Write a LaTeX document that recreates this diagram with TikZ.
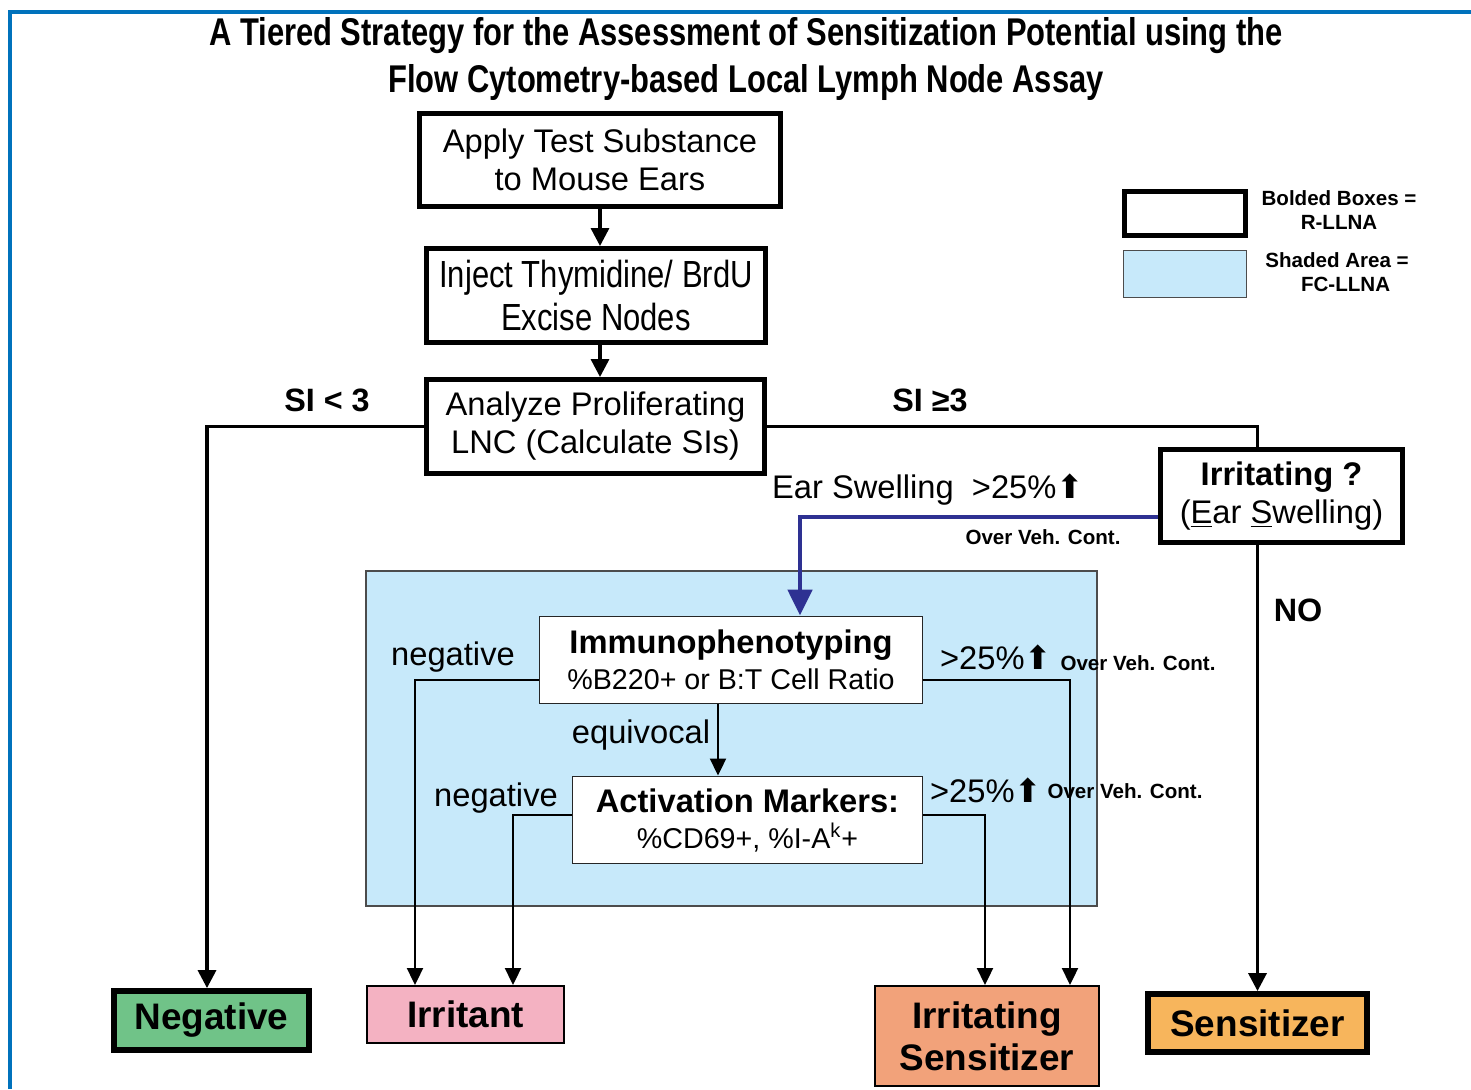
\documentclass[tikz,border=0pt]{standalone}
\usepackage{fontspec}
\usepackage{graphicx}
\setmainfont{Liberation Sans}
\newfontfamily\arrowfont{DejaVu Sans}
\usetikzlibrary{arrows.meta,positioning}
\definecolor{framecol}{RGB}{0,114,188}
\definecolor{fcshade}{RGB}{199,233,250}
\definecolor{earblue}{RGB}{46,49,146}
\definecolor{negcol}{RGB}{112,195,136}
\definecolor{irrcol}{RGB}{244,178,194}
\definecolor{irrsenscol}{RGB}{242,162,122}
\definecolor{senscol}{RGB}{247,181,92}
\newcommand{\uparr}{{\arrowfont\char"2B06}}
\newcommand{\narrow}[1]{\scalebox{0.82}[1]{#1}}

\begin{document}
\begin{tikzpicture}
    % Define styles
    \tikzset{
        rllna/.style={draw, line width=2.8pt, fill=white, inner sep=0pt, align=center, font=\fontsize{18.6}{21.6}\selectfont},
        fcllna/.style={draw=black!85, line width=1.1pt, fill=white, inner sep=0pt, align=center, font=\fontsize{18.6}{20.5}\selectfont},
        outcome/.style={draw, inner sep=0pt, align=center, font=\bfseries\fontsize{21}{24}\selectfont},
        flowarrow/.style={line width=1.9pt, -{Triangle[length=0.36cm, width=0.36cm]}},
        innerarrow/.style={line width=1.2pt, -{Triangle[length=0.34cm, width=0.32cm]}},
        bluearrow/.style={line width=2.8pt, draw=earblue, -{Triangle[length=0.52cm, width=0.48cm]}},
        steplabel/.style={font=\fontsize{18.6}{21}\selectfont},
        boldlabel/.style={font=\bfseries\fontsize{18.4}{21}\selectfont},
        smalllabel/.style={font=\bfseries\fontsize{11.7}{13.7}\selectfont, align=center}
    }
    \useasboundingbox (0,0) rectangle (29.42,21.78);
    
    % Frame
    \draw[framecol, line width=2.8pt] (0.2,0) -- (0.2,21.54) -- (29.42,21.54);
    
    % Title
    \node[font=\bfseries\fontsize{22}{26.7}\selectfont, align=center, xscale=0.80] (title) at (14.92,20.60)
        {A Tiered Strategy for the Assessment of Sensitization Potential using the\\Flow Cytometry-based Local Lymph Node Assay};
    
    % Legend
    \node[draw, line width=2.8pt, fill=white, minimum width=2.42cm, minimum height=0.88cm] (legbold) at (23.70,17.51) {};
    \node[draw=black!70, line width=0.6pt, fill=fcshade, minimum width=2.46cm, minimum height=0.94cm] (legshade) at (23.70,16.30) {};
    \node[smalllabel] (legboldtxt) at (26.78,17.58) {Bolded Boxes =\\R-LLNA};
    \node[smalllabel] (legshadetxt) at (26.74,16.34) {Shaded Area =\\\ \ \ FC-LLNA};
    
    % FC-LLNA area
    \node[draw=black!70, line width=0.6pt, fill=fcshade, minimum width=14.62cm, minimum height=6.70cm] (fcarea) at (14.63,7.01) {};
    
    % R-LLNA steps
    \node[rllna, minimum width=7.22cm, minimum height=1.86cm] (apply) at (12.00,18.58) {Apply Test Substance\\to Mouse Ears};
    \node[rllna, minimum width=6.78cm, minimum height=1.88cm, font=\fontsize{21.5}{25}\selectfont] (inject) at (11.92,15.87) {\narrow{Inject Thymidine/ BrdU}\\\narrow{Excise Nodes}};
    \node[rllna, minimum width=6.76cm, minimum height=1.88cm] (analyze) at (11.91,13.25) {Analyze Proliferating\\LNC (Calculate SIs)};
    \node[rllna, minimum width=4.84cm, minimum height=1.86cm] (irritating) at (25.63,11.86) {\textbf{Irritating ?}\\(\underline{E}ar \underline{S}welling)};
    
    % FC-LLNA steps
    \node[fcllna, minimum width=7.66cm, minimum height=1.74cm] (immuno) at (14.62,8.58) {\textbf{Immunophenotyping}\\{\fontsize{16.3}{19}\selectfont \%B220+ or B:T Cell Ratio}};
    \node[fcllna, minimum width=7.00cm, minimum height=1.74cm] (activation) at (14.95,5.38) {\textbf{Activation Markers:}\\{\fontsize{16.3}{19}\selectfont \%CD69+, \%I-A\textsuperscript{k}+}};
    
    % Outcomes
    \node[outcome, line width=3.3pt, fill=negcol, minimum width=3.90cm, minimum height=1.18cm] (negative) at (4.23,1.37) {Negative};
    \node[outcome, line width=1.1pt, fill=irrcol, minimum width=3.94cm, minimum height=1.14cm] (irritant) at (9.31,1.49) {Irritant};
    \node[outcome, line width=1.1pt, fill=irrsenscol, minimum width=4.48cm, minimum height=2.00cm] (irrsens) at (19.74,1.06) {Irritating\\Sensitizer};
    \node[outcome, line width=3.3pt, fill=senscol, minimum width=4.38cm, minimum height=1.16cm] (sensitizer) at (25.15,1.32) {Sensitizer};
    
    % Connectors
    \draw[flowarrow] (apply.south) -- (apply.south |- inject.north);
    \draw[flowarrow] (apply.south |- inject.south) -- (apply.south |- analyze.north);
    \draw[flowarrow] (analyze.west) -| ([xshift=-0.09cm]negative.north);
    \draw[line width=1.9pt] (analyze.east) -| (sensitizer.north |- irritating.north);
    \draw[flowarrow] (sensitizer.north |- irritating.south) -- (sensitizer.north);
    \draw[bluearrow] ([yshift=-0.42cm]irritating.west) -| ([xshift=1.38cm]immuno.north);
    \draw[innerarrow] ([yshift=-0.40cm]immuno.west) -| ([xshift=-1.01cm]irritant.north);
    \draw[innerarrow] ([yshift=0.10cm]activation.west) -| ([xshift=0.95cm]irritant.north);
    \draw[innerarrow] ([yshift=-0.40cm]immuno.east) -| ([xshift=1.66cm]irrsens.north);
    \draw[innerarrow] ([yshift=0.10cm]activation.east) -| ([xshift=-0.04cm]irrsens.north);
    \draw[innerarrow] ([xshift=-0.26cm]immuno.south) -- ([xshift=-0.59cm]activation.north);
    
    % Labels
    \node[boldlabel] (silow) at (6.54,13.78) {SI < 3};
    \node[boldlabel] (sihigh) at (18.60,13.78) {SI ≥3};
    \node[steplabel] (earlabel) at (18.56,11.98) {Ear Swelling\ \ >25\%\uparr};
    \node[smalllabel] (earveh) at (20.86,11.04) {Over Veh. Cont.};
    \node[boldlabel] (nolabel) at (25.96,9.58) {NO};
    \node[steplabel] (neglabel) at (9.06,8.64) {negative};
    \node[steplabel] (immunopos) at (19.92,8.64) {>25\%\uparr};
    \node[smalllabel] (immunoveh) at (22.76,8.52) {Over Veh. Cont.};
    \node[steplabel] (equivlabel) at (12.82,7.08) {equivocal};
    \node[steplabel] (actneg) at (9.92,5.82) {negative};
    \node[steplabel] (actpos) at (19.72,5.98) {>25\%\uparr};
    \node[smalllabel] (actveh) at (22.50,5.96) {Over Veh. Cont.};
    
\end{tikzpicture}
\end{document}
